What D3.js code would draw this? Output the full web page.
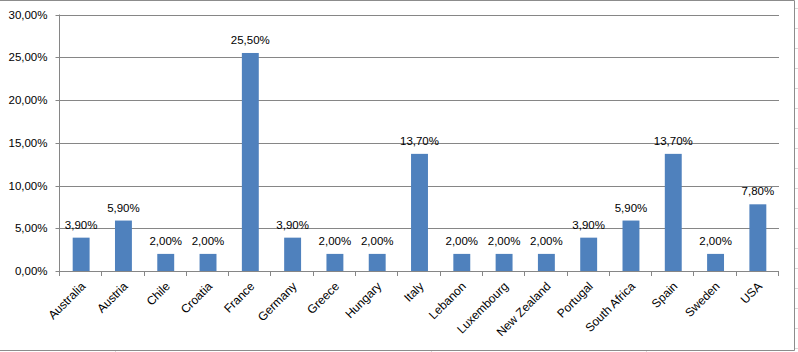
<html>
<head>
<style>
  body{margin:0;background:#fff}
  svg text{font-family:"Liberation Sans",Arial,sans-serif;font-size:11.5px;fill:#000}
</style>
</head>
<body>
<div id="chart"></div>
<script src="https://d3js.org/d3.v7.min.js"></script>
<script>
var countries = ['Australia','Austria','Chile','Croatia','France','Germany','Greece','Hungary','Italy','Lebanon','Luxembourg','New Zealand','Portugal','South Africa','Spain','Sweden','USA'];
var shares    = [3.9, 5.9, 2.0, 2.0, 25.5, 3.9, 2.0, 2.0, 13.7, 2.0, 2.0, 2.0, 3.9, 5.9, 13.7, 2.0, 7.8];
var yTicks    = [0, 5, 10, 15, 20, 25, 30];

(function () {

var width = 798, height = 352,
    pLeft = 60, pRight = 779, pTop = 14.5, pBottom = 271;

var fmt = function (v) { return v.toFixed(2).replace('.', ',') + '%'; };

var svg = d3.select('#chart').append('svg')
  .attr('width', width)
  .attr('height', height);

var x = d3.scaleBand().domain(countries).range([pLeft, pRight]).paddingInner(0.6).paddingOuter(0.3);
var xb = d3.scaleBand().domain(countries).range([pLeft, pRight]);
var y = d3.scaleLinear().domain([0, 30]).range([pBottom, pTop]);

// chart border (partly cropped)
svg.append('path')
  .attr('d', 'M0,0.5H794.5V350.5H0')
  .style('fill', 'none').style('stroke', '#8c8c8c').style('stroke-width', 1);

// sheet gridline remnants outside the chart
d3.range(8, 352, 20).forEach(function (yy) {
  svg.append('line').attr('x1', 795).attr('x2', 798).attr('y1', yy + 0.5).attr('y2', yy + 0.5)
    .style('stroke', '#d9d9d9');
});
[115, 431, 646].forEach(function (xx) {
  svg.append('line').attr('x1', xx + 0.5).attr('x2', xx + 0.5).attr('y1', 351).attr('y2', 352)
    .style('stroke', '#d9d9d9');
});

// gridlines
svg.append('g').selectAll('line').data(yTicks.filter(function (d) { return d > 0; })).enter()
  .append('line')
  .attr('x1', pLeft).attr('x2', pRight)
  .attr('y1', function (d) { return Math.round(y(d)) + 0.5; })
  .attr('y2', function (d) { return Math.round(y(d)) + 0.5; })
  .style('stroke', '#868686');

// y axis
var yAxis = svg.append('g')
  .attr('transform', 'translate(' + (pLeft - 0.5) + ',0)')
  .call(d3.axisLeft(y).tickValues(yTicks).tickFormat(fmt).tickSize(4).tickPadding(8));
yAxis.select('.domain').attr('d', 'M0,' + pTop + 'V' + (pBottom + 0.5)).style('stroke', '#868686');
yAxis.selectAll('.tick line').style('stroke', '#868686');
yAxis.selectAll('.tick').attr('transform', function (d) { return 'translate(0,' + (Math.round(y(d)) + 0.5) + ')'; });
yAxis.selectAll('text').style('font-size', '11.5px').style('font-family', '"Liberation Sans",Arial,sans-serif').attr('fill', '#000');

// x axis line and ticks at category boundaries
svg.append('line')
  .attr('x1', pLeft).attr('x2', pRight)
  .attr('y1', pBottom + 0.5).attr('y2', pBottom + 0.5)
  .style('stroke', '#868686');
svg.append('g').selectAll('line').data(countries.concat(['__end'])).enter()
  .append('line')
  .attr('x1', function (d, i) { return Math.round(pLeft + i * xb.bandwidth()) - 0.5; })
  .attr('x2', function (d, i) { return Math.round(pLeft + i * xb.bandwidth()) - 0.5; })
  .attr('y1', pBottom).attr('y2', pBottom + 5)
  .style('stroke', '#868686');

// bars
svg.append('g').selectAll('rect').data(countries).enter()
  .append('rect')
  .attr('x', function (d) { return x(d); })
  .attr('width', x.bandwidth())
  .attr('y', function (d, i) { return y(shares[i]); })
  .attr('height', function (d, i) { return y(0) - y(shares[i]); })
  .style('fill', '#4f81bd');

// data labels
svg.append('g').selectAll('text').data(countries).enter()
  .append('text')
  .attr('x', function (d) { return xb(d) + xb.bandwidth() / 2; })
  .attr('y', function (d, i) { return y(shares[i]) - 9; })
  .attr('text-anchor', 'middle')
  .text(function (d, i) { return fmt(shares[i]); });

// category labels
svg.append('g').selectAll('text').data(countries).enter()
  .append('text')
  .attr('text-anchor', 'end')
  .style('font-size', '12px')
  .attr('transform', function (d) {
    var cx = xb(d) + xb.bandwidth() / 2 + 5;
    return 'translate(' + cx + ',' + (pBottom + 16) + ') rotate(-45)';
  })
  .text(function (d) { return d; });

})();
</script>
</body>
</html>
